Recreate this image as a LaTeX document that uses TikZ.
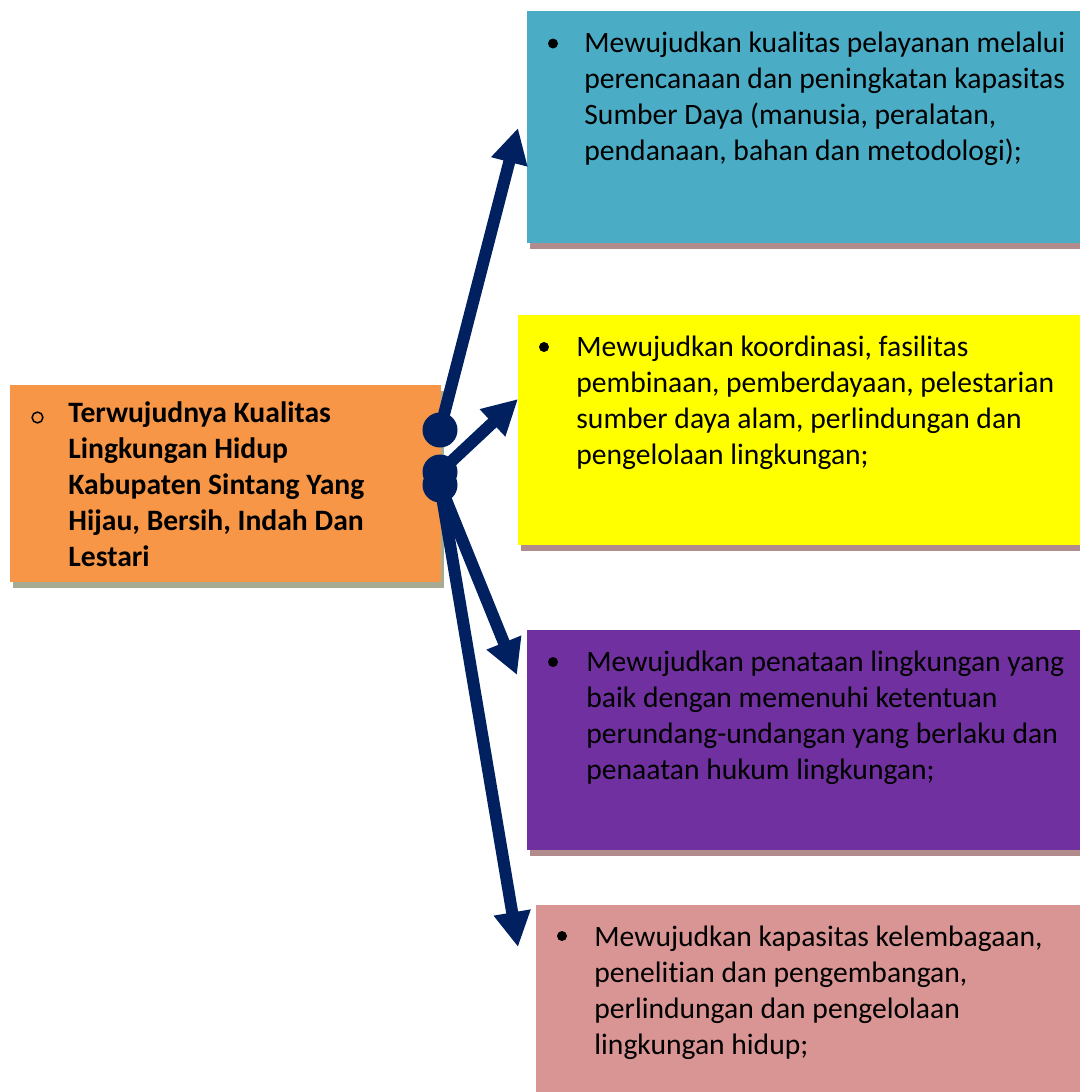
\documentclass[tikz,border=0pt]{standalone}
\usepackage{fontspec}
\setmainfont{Carlito}[Ligatures=NoCommon]
\usetikzlibrary{arrows.meta,shadows}

\definecolor{goalorange}{RGB}{247,150,70}
\definecolor{misiblue}{RGB}{75,172,198}
\definecolor{misiyellow}{RGB}{255,255,0}
\definecolor{misipurple}{RGB}{112,48,160}
\definecolor{misipink}{RGB}{217,149,148}
\definecolor{shadegreen}{RGB}{166,172,148}
\definecolor{shaderose}{RGB}{178,140,140}
\definecolor{arrowblue}{RGB}{0,32,96}

\begin{document}
\begin{tikzpicture}[x=0.5pt,y=-0.5pt]
    % `panel' is used for the coloured boxes, `shade' gives them a flat shadow.
    % `knot' is the round start of every arrow, `flow' the arrow itself.
    % `body' texts are placed at the baseline of their last line.
    \tikzstyle{panel} = [rectangle,anchor=north west,inner sep=0pt]
    \tikzstyle{shade} = [drop shadow={shadow xshift=1.5pt,shadow yshift=-2.75pt,fill=shaderose,opacity=1}]
    \tikzstyle{knot} = [draw=none,fill=arrowblue,shape=circle,minimum size=17.5pt,inner sep=0pt]
    \tikzstyle{flow} = [draw=arrowblue,line width=6pt,-{Triangle[length=17.5pt,width=17.5pt]}]
    \tikzstyle{body} = [anchor=base west,align=left,inner sep=0pt,font=\fontsize{14.8}{18}\selectfont]
    \tikzstyle{dot} = [fill=black,shape=circle,minimum size=5pt,inner sep=0pt]
    \tikzstyle{ring} = [draw=black,line width=0.75pt,shape=circle,minimum size=5.4pt,inner sep=0pt]
    %
    \useasboundingbox (0,0) rectangle (1080,1092);
    % Draw boxes.
    \node[panel,fill=goalorange,minimum width=215.5pt,minimum height=98.5pt,
      drop shadow={shadow xshift=1.5pt,shadow yshift=-2.75pt,fill=shadegreen,opacity=1}] (goal) at (10,385) {};
    \node[panel,shade,fill=misiblue,minimum width=285pt,minimum height=116pt] (misi1) at (527,11) {};
    \node[panel,shade,fill=misiyellow,minimum width=290pt,minimum height=115pt] (misi2) at (518,315) {};
    \node[panel,shade,fill=misipurple,minimum width=285pt,minimum height=110pt] (misi3) at (527,630) {};
    \node[panel,fill=misipink,minimum width=280pt,minimum height=100pt] (misi4) at (536,905) {};

    % Texts.
    \node[ring] (r0) at (37.5,417.5) {};
    \node[body,font=\bfseries\fontsize{14.8}{18}\selectfont] (goaltext) at (68,566)
      {Terwujudnya Kualitas\\Lingkungan Hidup\\Kabupaten Sintang Yang\\Hijau, Bersih, Indah Dan\\Lestari};
    \node[dot] (d1) at (553,43.5) {};
    \node[body] (text1) at (584,160)
      {Mewujudkan kualitas pelayanan melalui\\perencanaan dan peningkatan kapasitas\\Sumber Daya (manusia, peralatan,\\pendanaan, bahan dan metodologi);};
    \node[dot] (d2) at (544,347) {};
    \node[body] (text2) at (576,464)
      {Mewujudkan koordinasi, fasilitas\\pembinaan, pemberdayaan, pelestarian\\sumber daya alam, perlindungan dan\\pengelolaan lingkungan;};
    \node[dot] (d3) at (553,662) {};
    \node[body] (text3) at (586,779)
      {Mewujudkan penataan lingkungan yang\\baik dengan memenuhi ketentuan\\perundang-undangan yang berlaku dan\\penaatan hukum lingkungan;};
    \node[dot] (d4) at (562,936) {};
    \node[body] (text4) at (594,1054)
      {Mewujudkan kapasitas kelembagaan,\\penelitian dan pengembangan,\\perlindungan dan pengelolaan\\lingkungan hidup;};

    % Draw arrows.
    \node[knot] (k1) at (440,430) {};
    \node[knot] (k2) at (440,472) {};
    \node[knot] (k3) at (440,485) {};
    \coordinate (tip1) at (518,128);
    \coordinate (tip2) at (518,399);
    \coordinate (tip3) at (517,675);
    \coordinate (tip4) at (518,947);
    \draw[flow] (k1.center) -- (tip1);
    \draw[flow] (k2.center) -- (tip2);
    \draw[flow] (k3.center) -- (tip3);
    \draw[flow] (k3.center) -- (tip4);
\end{tikzpicture}
\end{document}
